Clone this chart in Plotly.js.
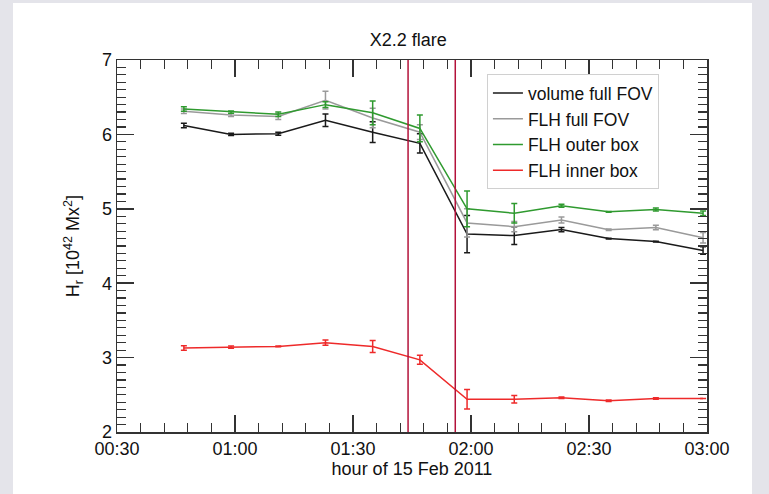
<!DOCTYPE html>
<html>
<head>
<meta charset="utf-8">
<script src="https://cdn.plot.ly/plotly-3.0.1.min.js"></script>
<style>
  html, body { margin: 0; padding: 0; background: #e4e4ea; width: 769px; height: 494px; overflow: hidden; }
  #chart { position: absolute; left: 13px; top: 3px; width: 739px; height: 491px; background: #fff; }
</style>
</head>
<body>
<div id="chart"></div>
<script>
// ---- data ----
const times = ['2011-02-15 00:47', '2011-02-15 00:59', '2011-02-15 01:11', '2011-02-15 01:23',
               '2011-02-15 01:35', '2011-02-15 01:47', '2011-02-15 01:59', '2011-02-15 02:11',
               '2011-02-15 02:23', '2011-02-15 02:35', '2011-02-15 02:47', '2011-02-15 02:59'];

const volumeFull = [6.12, 6.00, 6.01, 6.19, 6.03, 5.88, 4.66, 4.64, 4.72, 4.60, 4.56, 4.44];
const volumeFullErr = [0.03, 0.015, 0.02, 0.085, 0.14, 0.13, 0.25, 0.12, 0.03, 0.005, 0.005, 0.05];

const flhFull = [6.31, 6.26, 6.24, 6.46, 6.22, 6.03, 4.81, 4.76, 4.85, 4.72, 4.75, 4.61];
const flhFullErr = [0.03, 0.02, 0.04, 0.12, 0.13, 0.10, 0.19, 0.07, 0.04, 0.01, 0.03, 0.07];

const flhOuter = [6.34, 6.30, 6.27, 6.40, 6.29, 6.08, 5.00, 4.94, 5.04, 4.96, 4.99, 4.94];
const flhOuterErr = [0.03, 0.015, 0.03, 0.04, 0.16, 0.18, 0.24, 0.13, 0.02, 0.005, 0.02, 0.03];

const flhInner = [3.13, 3.14, 3.15, 3.20, 3.15, 2.97, 2.44, 2.44, 2.46, 2.42, 2.45, 2.45];
const flhInnerErr = [0.03, 0.015, 0.005, 0.035, 0.08, 0.06, 0.13, 0.05, 0.01, 0.01, 0.01, 0.0];

const seriesNames = ['volume full FOV', 'FLH full FOV', 'FLH outer box', 'FLH inner box'];
const flareTimes = ['2011-02-15 01:44', '2011-02-15 01:56'];   // flare start / peak markers
const xRange = ['2011-02-15 00:30', '2011-02-15 03:00'];
const yRange = [2, 7];

// ---- styles ----
const colors = ['#1a1a1a', '#9a9a9a', '#2f9a2f', '#ee2a2a'];
const values = [volumeFull, flhFull, flhOuter, flhInner];
const errs = [volumeFullErr, flhFullErr, flhOuterErr, flhInnerErr];

const traces = values.map((v, i) => ({
  type: 'scatter',
  mode: 'lines',
  name: seriesNames[i],
  x: times,
  y: v,
  line: { color: colors[i], width: 1.5 },
  error_y: { type: 'data', array: errs[i], visible: true, color: colors[i], thickness: 1.5, width: 3 }
}));

const FONT = "'Liberation Sans', Arial, Helvetica, sans-serif";
const FS = 18;

const layout = {
  width: 739,
  height: 491,
  margin: { l: 104, r: 45, t: 57, b: 62 },
  paper_bgcolor: '#ffffff',
  plot_bgcolor: '#ffffff',
  font: { family: FONT, size: FS, color: '#111' },
  showlegend: true,
  title: {
    text: 'X2.2 flare',
    font: { family: FONT, size: FS, color: '#111' },
    x: 0.535, xanchor: 'center',
    y: 0.925, yanchor: 'middle'
  },
  legend: {
    x: 0.627, y: 0.962, xanchor: 'left', yanchor: 'top',
    bgcolor: '#ffffff', bordercolor: '#d0d0d0', borderwidth: 1,
    font: { family: FONT, size: 17.5, color: '#111' },
    tracegroupgap: 0
  },
  xaxis: {
    type: 'date',
    range: xRange,
    tick0: '2011-02-15 00:30',
    dtick: 1800000,
    tickformat: '%H:%M',
    ticks: 'inside',
    ticklen: 17,
    tickwidth: 1.5,
    tickcolor: '#333',
    minor: { ticks: 'inside', ticklen: 9, dtick: 360000, tickwidth: 1.2, tickcolor: '#333', showgrid: false },
    showline: true, linecolor: '#333', linewidth: 1.5,
    mirror: 'allticks',
    showgrid: false, zeroline: false,
    tickfont: { family: FONT, size: FS, color: '#111' },
    title: { text: 'hour of 15 Feb 2011', font: { family: FONT, size: FS, color: '#111' }, standoff: 0 }
  },
  yaxis: {
    range: yRange,
    dtick: 1,
    ticks: 'inside',
    ticklen: 17,
    tickwidth: 1.5,
    tickcolor: '#333',
    minor: { ticks: 'inside', ticklen: 9, dtick: 0.1, tickwidth: 1.2, tickcolor: '#333', showgrid: false },
    showline: true, linecolor: '#333', linewidth: 1.5,
    mirror: 'allticks',
    showgrid: false, zeroline: false,
    tickfont: { family: FONT, size: FS, color: '#111' },
    title: { text: 'H<sub>r</sub> [10<sup>42</sup> Mx<sup>2</sup>]', font: { family: FONT, size: FS, color: '#111' }, standoff: 17 }
  },
  shapes: flareTimes.map(t => ({
    type: 'line', xref: 'x', yref: 'paper',
    x0: t, x1: t, y0: 0, y1: 1,
    line: { color: '#b3123a', width: 1.5 },
    layer: 'above'
  }))
};

Plotly.newPlot('chart', traces, layout, { displayModeBar: false, staticPlot: true });
</script>
</body>
</html>
